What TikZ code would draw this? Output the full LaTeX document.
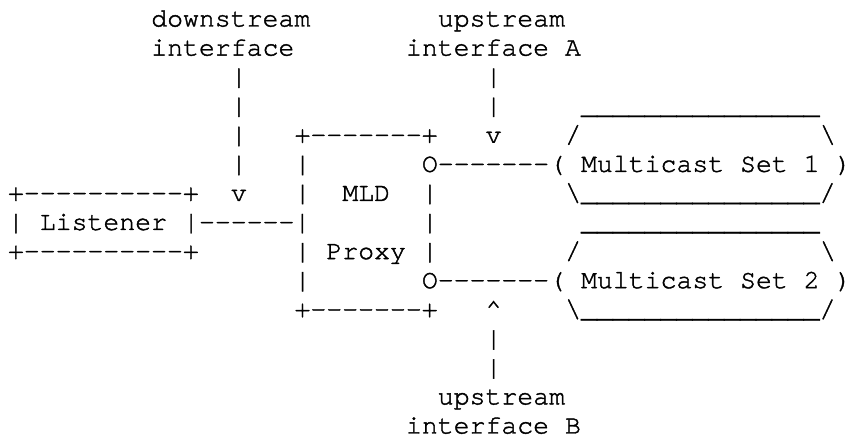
\documentclass[tikz,border=0pt]{standalone}
\usepackage{fontspec}
\setmonofont[FakeBold=1.5]{TeX Gyre Cursor}
\tikzset{asc/.style={anchor=base west, inner sep=0pt, outer sep=0pt,
  font=\ttfamily\fontsize{26.5}{29}\selectfont, text=black}}
\newcommand{\putat}[4]{\node[asc] (#1) at ({8pt+#2*15.92pt}, {-26.5pt-#3*29.07pt}) {#4};}
\newcommand{\usline}{\_\_\_\_\_\_\_\_\_\_\_\_\_\_\_}
\begin{document}
\begin{tikzpicture}
\useasboundingbox (0,0) rectangle (852pt,-439pt);
% row 0-1: labels
\putat{dsa}{9}{0}{downstream}
\putat{usa}{27}{0}{upstream}
\putat{dsb}{9}{1}{interface}
\putat{uab}{25}{1}{interface A}
% rows 2-4
\putat{p2a}{14}{2}{|}
\putat{p2b}{30}{2}{|}
\putat{p3a}{14}{3}{|}
\putat{p3b}{30}{3}{|}
\putat{u3}{36}{3}{\usline}
\putat{p4a}{14}{4}{|}
\putat{mtop}{18}{4}{+-------+}
\putat{v4}{30}{4}{v}
\putat{s4a}{35}{4}{/}
\putat{s4b}{51}{4}{\textbackslash}
% row 5
\putat{p5a}{14}{5}{|}
\putat{p5b}{18}{5}{|}
\putat{o5}{26}{5}{O-------(}
\putat{m1}{36}{5}{Multicast Set 1}
\putat{c5}{52}{5}{)}
% row 6
\putat{ltop}{0}{6}{+----------+}
\putat{v6}{14}{6}{v}
\putat{p6a}{18}{6}{|}
\putat{mld}{21}{6}{MLD}
\putat{p6b}{26}{6}{|}
\putat{b6}{35}{6}{\textbackslash\usline/}
% row 7
\putat{p7a}{0}{7}{|}
\putat{lis}{2}{7}{Listener}
\putat{l7}{11}{7}{|------|}
\putat{p7b}{26}{7}{|}
\putat{u7}{36}{7}{\usline}
% row 8
\putat{lbot}{0}{8}{+----------+}
\putat{p8a}{18}{8}{|}
\putat{prx}{20}{8}{Proxy}
\putat{p8b}{26}{8}{|}
\putat{s8a}{35}{8}{/}
\putat{s8b}{51}{8}{\textbackslash}
% row 9
\putat{p9a}{18}{9}{|}
\putat{o9}{26}{9}{O-------(}
\putat{m2}{36}{9}{Multicast Set 2}
\putat{c9}{52}{9}{)}
% row 10
\putat{mbot}{18}{10}{+-------+}
\putat{ca}{30}{10}{\textasciicircum}
\putat{b10}{35}{10}{\textbackslash\usline/}
% rows 11-14
\putat{p11}{30}{11}{|}
\putat{p12}{30}{12}{|}
\putat{ubu}{27}{13}{upstream}
\putat{ubi}{25}{14}{interface B}
\end{tikzpicture}
\end{document}
